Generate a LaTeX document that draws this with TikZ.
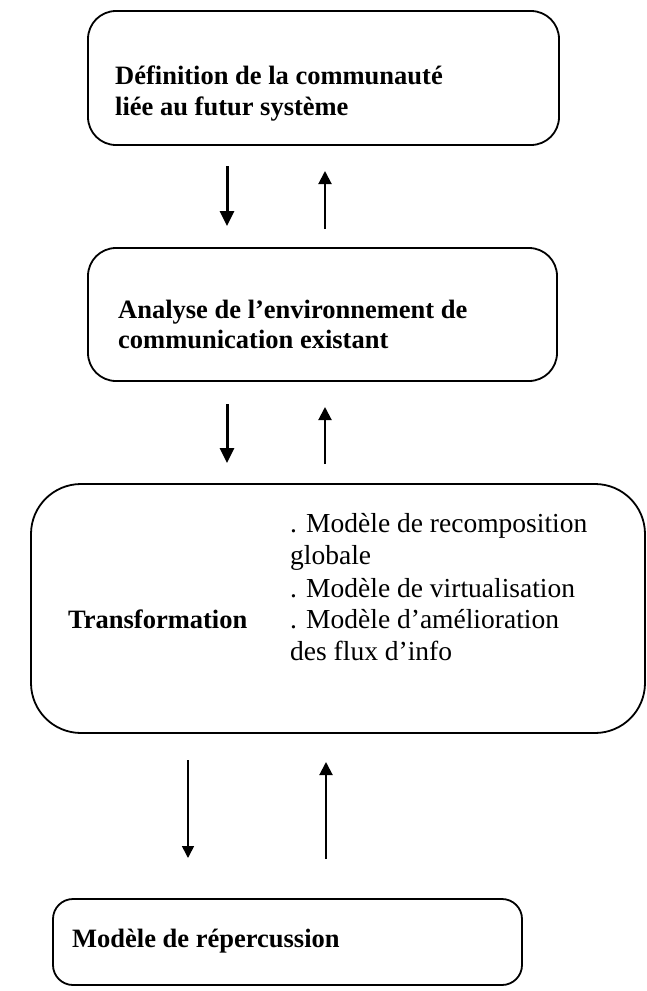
\documentclass[tikz,border=0pt]{standalone}
\usepackage{fontspec}
\setmainfont{Liberation Serif}
\usetikzlibrary{arrows.meta}
\tikzset{
  box/.style={draw, line width=1.8pt, rounded corners=#1, inner sep=0pt},
  box/.default=28pt,
  lbl/.style={anchor=base west, inner sep=0pt, font=\fontsize{26.5}{30}\selectfont\bfseries},
  lblr/.style={anchor=base west, inner sep=0pt, font=\fontsize{27.5}{30}\selectfont},
  thickarr/.style={line width=3pt, -{Triangle[length=15pt,width=14pt]}},
  thinarr/.style={line width=2pt, -{Triangle[length=13pt,width=13pt]}},
  finearr/.style={line width=1.6pt, -{Triangle[length=12pt,width=12pt]}}
}
\begin{document}
\begin{tikzpicture}[x=1pt,y=-1pt]
\useasboundingbox (0,0) rectangle (647,991);
% boxes
\node[box, minimum width=471pt, minimum height=134pt] (b1) at (323.5,78) {};
\node[box, minimum width=469pt, minimum height=133pt] (b2) at (322.5,314.5) {};
\node[box=50pt, minimum width=614pt, minimum height=249pt] (b3) at (338,608.5) {};
\node[box=20pt, minimum width=469pt, minimum height=86pt] (b4) at (287.5,942) {};
% texts
\node[lbl] (t1a) at (115,84) {Définition de la communauté};
\node[lbl] (t1b) at (115,115) {liée au futur système};
\node[lbl] (t2a) at (118,318) {Analyse de l’environnement de};
\node[lbl] (t2b) at (118,348) {communication existant};
\node[lbl] (t3) at (68,628) {Transformation};
\node[lblr] (l1) at (290,532) {. Modèle de recomposition};
\node[lblr] (l2) at (290,564) {globale};
\node[lblr] (l3) at (290,597) {. Modèle de virtualisation};
\node[lblr] (l4) at (290,628) {. Modèle d’amélioration};
\node[lblr] (l5) at (290,660) {des flux d’info};
\node[lbl] (t4) at (72,947) {Modèle de répercussion};
% arrow end points
\coordinate (d1s) at (227,166);
\coordinate (d1e) at (227,226);
\coordinate (u1s) at (325,229);
\coordinate (u1e) at (325,171);
\coordinate (d2s) at (227,404);
\coordinate (d2e) at (227,463);
\coordinate (u2s) at (325,464);
\coordinate (u2e) at (325,407);
\coordinate (d3s) at (188,760);
\coordinate (d3e) at (188,858);
\coordinate (u3s) at (326,859);
\coordinate (u3e) at (326,762);
\draw[thickarr] (d1s) -- (d1e);
\draw[thinarr] (u1s) -- (u1e);
\draw[thickarr] (d2s) -- (d2e);
\draw[thinarr] (u2s) -- (u2e);
\draw[finearr] (d3s) -- (d3e);
\draw[thinarr] (u3s) -- (u3e);
\end{tikzpicture}
\end{document}
